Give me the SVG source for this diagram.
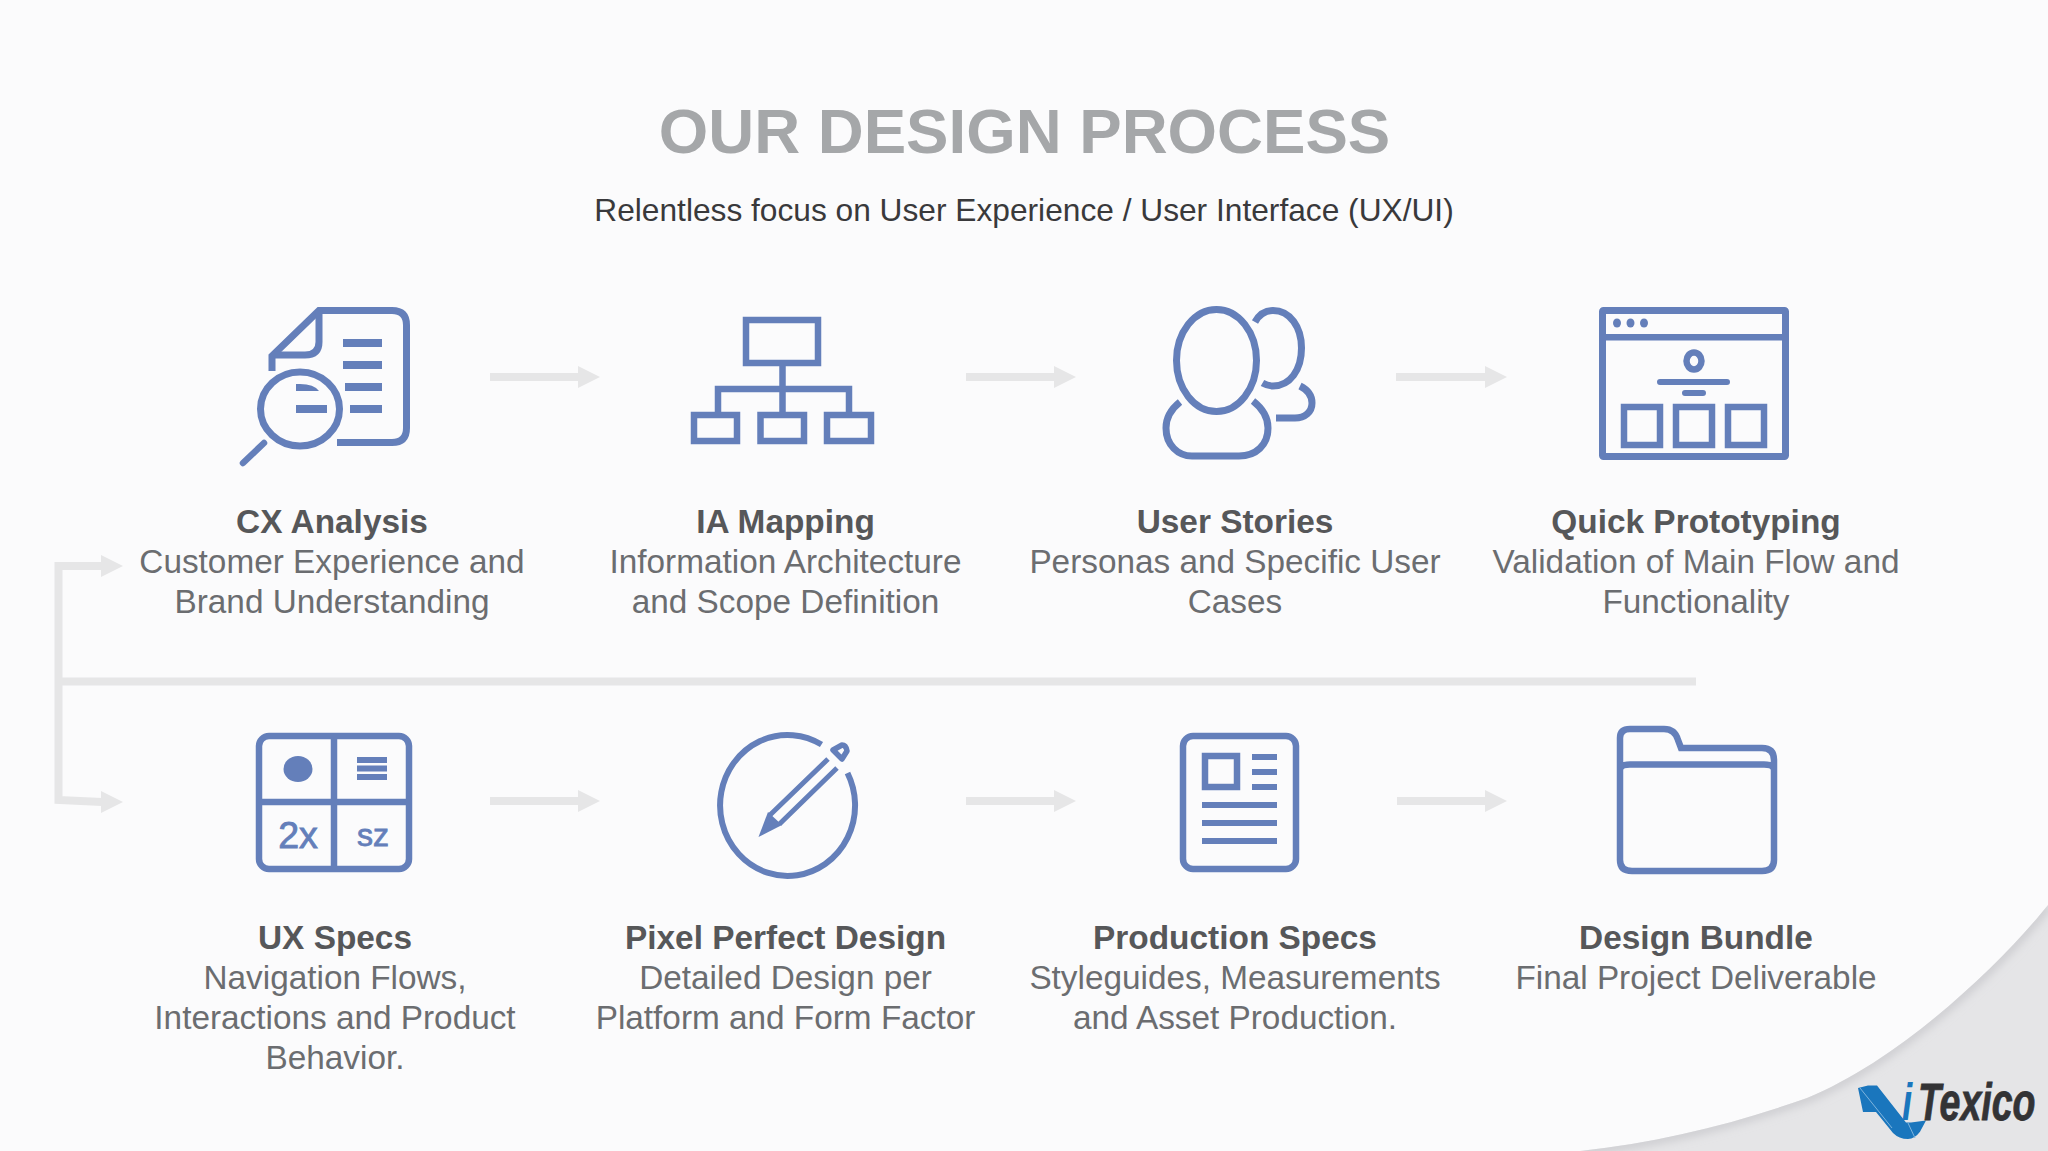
<svg xmlns="http://www.w3.org/2000/svg" width="2048" height="1151" viewBox="0 0 2048 1151">
<style>
text{font-family:"Liberation Sans",Arial,sans-serif;text-anchor:middle}
.t{font-size:33.4px;font-weight:700;fill:#565759}
.d{font-size:33.35px;fill:#6b6d70}
.s{fill:none;stroke:#647fba;stroke-width:7}
.m{fill:none;stroke:#647fba;stroke-width:6.500}
.f{fill:#647fba}
.c{fill:none;stroke:#e6e6e7;stroke-width:8}
.h{fill:#e6e6e7}
</style>
<defs>
<filter id="b" x="-10%" y="-10%" width="120%" height="120%"><feGaussianBlur stdDeviation="5"/></filter>
<clipPath id="cc"><path d="M2048,905C2000,965 1900,1060 1807,1098C1730,1125 1660,1142 1580,1151H2048Z"/></clipPath>
<path id="ah" d="M-22,-11L0,0L-22,11Z"/>
</defs>
<rect width="2048" height="1151" fill="#fbfbfc"/>
<g id="corner-shape">
<path d="M2048,905C2000,965 1900,1060 1807,1098C1730,1125 1660,1142 1580,1151H2048Z" fill="#e5e5e7"/>
<path clip-path="url(#cc)" d="M2048,905C2000,965 1900,1060 1807,1098C1730,1125 1660,1142 1580,1151" fill="none" stroke="#c8c8cc" stroke-width="8" filter="url(#b)"/>
</g>
<text id="title" x="1024.500" y="153" font-size="63.6" font-weight="700" fill="#a5a7a9">OUR DESIGN PROCESS</text>
<text id="subtitle" x="1024" y="221" font-size="31.7" fill="#39393b">Relentless focus on User Experience / User Interface (UX/UI)</text>

<g id="connectors">
<path class="c" d="M490,377H578M966,377H1054M1396,377H1486M490,801H578M966,801H1054M1397,801H1486"/>
<use href="#ah" class="h" x="600" y="377"/><use href="#ah" class="h" x="1076" y="377"/><use href="#ah" class="h" x="1507" y="377"/>
<use href="#ah" class="h" x="600" y="801"/><use href="#ah" class="h" x="1076" y="801"/><use href="#ah" class="h" x="1507" y="801"/>
<path class="c" d="M102,566H58.500V800L102,802M62,681.500H1696"/>
<use href="#ah" class="h" x="123" y="566"/><use href="#ah" class="h" x="123" y="802"/>
</g>

<g id="cx-analysis">
<path class="s" d="M272,371V356L319,310.500H392Q406.500,310.500 406.500,325V428Q406.500,442.500 392,442.500H337"/>
<path class="s" d="M319,310V342Q319,355 305,355H272"/>
<path class="f" d="M343,339h39v8h-39zM343,361h39v8h-39zM345,383h37v8h-37zM350,405h32v8h-32zM296,405h31v8h-31zM296,384h4q14,0 19,7h-23z"/>
<ellipse class="s" cx="300" cy="409" rx="39.500" ry="37"/>
<path d="M264,443L243,463" fill="none" stroke="#647fba" stroke-width="6.500" stroke-linecap="round"/>
<text class="t" x="332" y="532.500">CX Analysis</text>
<text class="d" x="332" y="573">Customer Experience and</text>
<text class="d" x="332" y="613">Brand Understanding</text>
</g>
<g id="ia-mapping">
<path class="m" d="M746,320H818V363H746ZM782.500,363V412M718,412V389H849V412M694,415H737V441H694ZM760.500,415H804V441H760.500ZM827,415H871V441H827Z"/>
<text class="t" x="785.500" y="532.500">IA Mapping</text>
<text class="d" x="785.500" y="573">Information Architecture</text>
<text class="d" x="785.500" y="613">and Scope Definition</text>
</g>
<g id="user-stories">
<ellipse class="s" cx="1216.500" cy="360.500" rx="40" ry="51"/>
<path class="s" d="M1255,322C1260,313 1266,310.500 1273,310.500C1290,310.500 1301.500,327 1301.500,348C1301.500,370 1290,386 1273,386C1269,386 1266,385 1262.500,383"/>
<path class="s" d="M1180,402C1170,410 1166,418 1166,428C1166,445 1178,456 1192,456H1239C1256,456 1268,445 1268,428C1268,417 1262,408 1253,401"/>
<path class="s" d="M1300,386C1308,390 1312,396 1312,403C1312,412 1305,418 1295,418H1276"/>
<text class="t" x="1235" y="532.500">User Stories</text>
<text class="d" x="1235" y="573">Personas and Specific User</text>
<text class="d" x="1235" y="613">Cases</text>
</g>
<g id="quick-prototyping">
<rect class="s" x="1602.500" y="310.500" width="183" height="146" rx="1"/>
<path class="f" d="M1599,334h190v6.500h-190z"/>
<ellipse class="f" cx="1617" cy="323" rx="4" ry="4.500"/><ellipse class="f" cx="1630.500" cy="323" rx="4" ry="4.500"/><ellipse class="f" cx="1644" cy="323" rx="4" ry="4.500"/>
<ellipse class="m" cx="1694" cy="361" rx="7.500" ry="8.500"/>
<path d="M1660,382H1727M1685,393H1703" fill="none" stroke="#647fba" stroke-width="6" stroke-linecap="round"/>
<path class="m" d="M1624,407H1660V445H1624ZM1676,407H1712V445H1676ZM1728,407H1764V445H1728Z"/>
<text class="t" x="1696" y="532.500">Quick Prototyping</text>
<text class="d" x="1696" y="573">Validation of Main Flow and</text>
<text class="d" x="1696" y="613">Functionality</text>
</g>

<g id="ux-specs">
<rect class="m" x="259" y="736" width="150" height="133" rx="10"/>
<path class="m" d="M334,736V869M259,802H409"/>
<ellipse class="f" cx="298" cy="769" rx="14.500" ry="13"/>
<path class="f" d="M357,757h30v6h-30zM357,765.500h30v6h-30zM357,774h30v6h-30z"/>
<text x="298" y="848" font-size="37.500" fill="#647fba" stroke="#647fba" stroke-width="0.900">2x</text>
<text x="373" y="846" font-size="32" fill="#647fba" stroke="#647fba" stroke-width="0.800">sz</text>
<text class="t" x="335" y="949">UX Specs</text>
<text class="d" x="335" y="989">Navigation Flows,</text>
<text class="d" x="335" y="1029">Interactions and Product</text>
<text class="d" x="335" y="1069">Behavior.</text>
</g>
<g id="pixel-perfect-design">
<path d="M821.500,744.500A67.500,70.500 0 1 0 847.500,773" fill="none" stroke="#647fba" stroke-width="6"/>
<path d="M758.500,837L768,812L782,825Z" class="f"/>
<path d="M770,815L828,759M779.500,824L837,768" fill="none" stroke="#647fba" stroke-width="5"/>
<path d="M833,750L842,745Q846,745 847,751L842,759Z" fill="none" stroke="#647fba" stroke-width="5.500" stroke-linejoin="round"/>
<text class="t" x="785.500" y="949">Pixel Perfect Design</text>
<text class="d" x="785.500" y="989">Detailed Design per</text>
<text class="d" x="785.500" y="1029">Platform and Form Factor</text>
</g>
<g id="production-specs">
<rect class="m" x="1183" y="736" width="113" height="133" rx="10"/>
<rect class="m" x="1205" y="756" width="32" height="31"/>
<path class="f" d="M1252,754h25v6h-25zM1252,769h25v6h-25zM1252,784h25v6h-25zM1202,802h75v6h-75zM1202,820h75v6h-75zM1202,838h75v6h-75z"/>
<text class="t" x="1235" y="949">Production Specs</text>
<text class="d" x="1235" y="989">Styleguides, Measurements</text>
<text class="d" x="1235" y="1029">and Asset Production.</text>
</g>
<g id="design-bundle">
<path class="m" d="M1620,770V738Q1620,729 1630,729H1664Q1675,729 1678,740L1681,748H1762Q1774,748 1774,760V860Q1774,871 1762,871H1632Q1620,871 1620,860V770Q1620,764.500 1630,764.500H1764Q1774,764.500 1774,770"/>
<text class="t" x="1696" y="949">Design Bundle</text>
<text class="d" x="1696" y="989">Final Project Deliverable</text>
</g>
<g id="logo">
<path fill="#1a76bd" d="M1858,1088L1868,1085.500H1877L1906,1122.500H1911L1926,1120.500L1920,1131.700Q1915,1138.500 1908,1139Q1899,1139 1893,1133L1876,1112L1863,1112Z"/>
<path d="M1860,1088L1892,1128M1908,1123L1915,1138" fill="none" stroke="#7fb4dd" stroke-width="1"/>
<text transform="translate(1902,1120) scale(.72,1)" x="0" y="0" font-size="51" font-weight="700" font-style="italic" fill="#1a76bd" style="text-anchor:start">i</text>
<text transform="translate(1918,1120) scale(.736,1)" x="0" y="0" font-size="51" font-weight="700" font-style="italic" fill="#333335" stroke="#333335" stroke-width="0.800" style="text-anchor:start">Texico</text>
</g>
</svg>
